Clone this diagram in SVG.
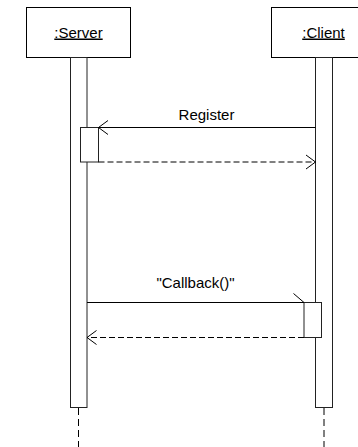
<svg xmlns="http://www.w3.org/2000/svg" width="358" height="447" viewBox="0 0 358 447">
<style>
  .box { fill: #fff; stroke: #000; stroke-width: 1; }
  .bar { fill: #fff; stroke: #222; stroke-width: 1; }
  .lbl { font-family: "Liberation Sans", Arial, sans-serif; font-size: 15px; fill: #000; text-anchor: middle; }
  .u { text-decoration: underline; }
  .msg { fill: none; stroke: #000; stroke-width: 1; }
  .ret { fill: none; stroke: #000; stroke-width: 1; stroke-dasharray: 6 3; }
  .life { fill: none; stroke: #000; stroke-width: 1; stroke-dasharray: 7 4; }
</style>
<rect width="358" height="447" fill="#fff"/>
<g id="server">
  <rect class="box" x="26.5" y="7.5" width="104" height="50"/>
  <text class="lbl u" x="78.5" y="37.5">:Server</text>
  <line class="life" x1="78.5" y1="408" x2="78.5" y2="447"/>
  <rect class="bar" x="70.5" y="57.5" width="16.5" height="350"/>
  <rect class="bar" x="80.5" y="127.5" width="18" height="34.5"/>
</g>
<g id="client">
  <rect class="box" x="271.5" y="7.5" width="104" height="50"/>
  <text class="lbl u" x="323.5" y="37.5">:Client</text>
  <line class="life" x1="324" y1="408" x2="324" y2="447"/>
  <rect class="bar" x="315.5" y="57.5" width="17" height="350"/>
  <rect class="bar" x="304" y="302.5" width="17.5" height="35"/>
</g>
<g id="connectors">
  <line class="msg" x1="315.5" y1="127.5" x2="98.5" y2="127.5"/>
  <path class="msg" d="M108 120.5 L98.5 127.5 L108 134.5"/>
  <text class="lbl" x="206.5" y="119.5">Register</text>
  <line class="ret" x1="98.5" y1="162" x2="315.5" y2="162"/>
  <path class="msg" d="M306 155 L315.5 162 L306 169"/>
  <line class="msg" x1="87" y1="302.5" x2="304" y2="302.5"/>
  <path class="msg" d="M293.5 293.5 L304 302.5"/>
  <text class="lbl" x="195.5" y="288">"Callback()"</text>
  <line class="ret" x1="304" y1="337.5" x2="87" y2="337.5"/>
  <path class="msg" d="M96.5 330.5 L87 337.5 L96.5 344.5"/>
</g>
</svg>
